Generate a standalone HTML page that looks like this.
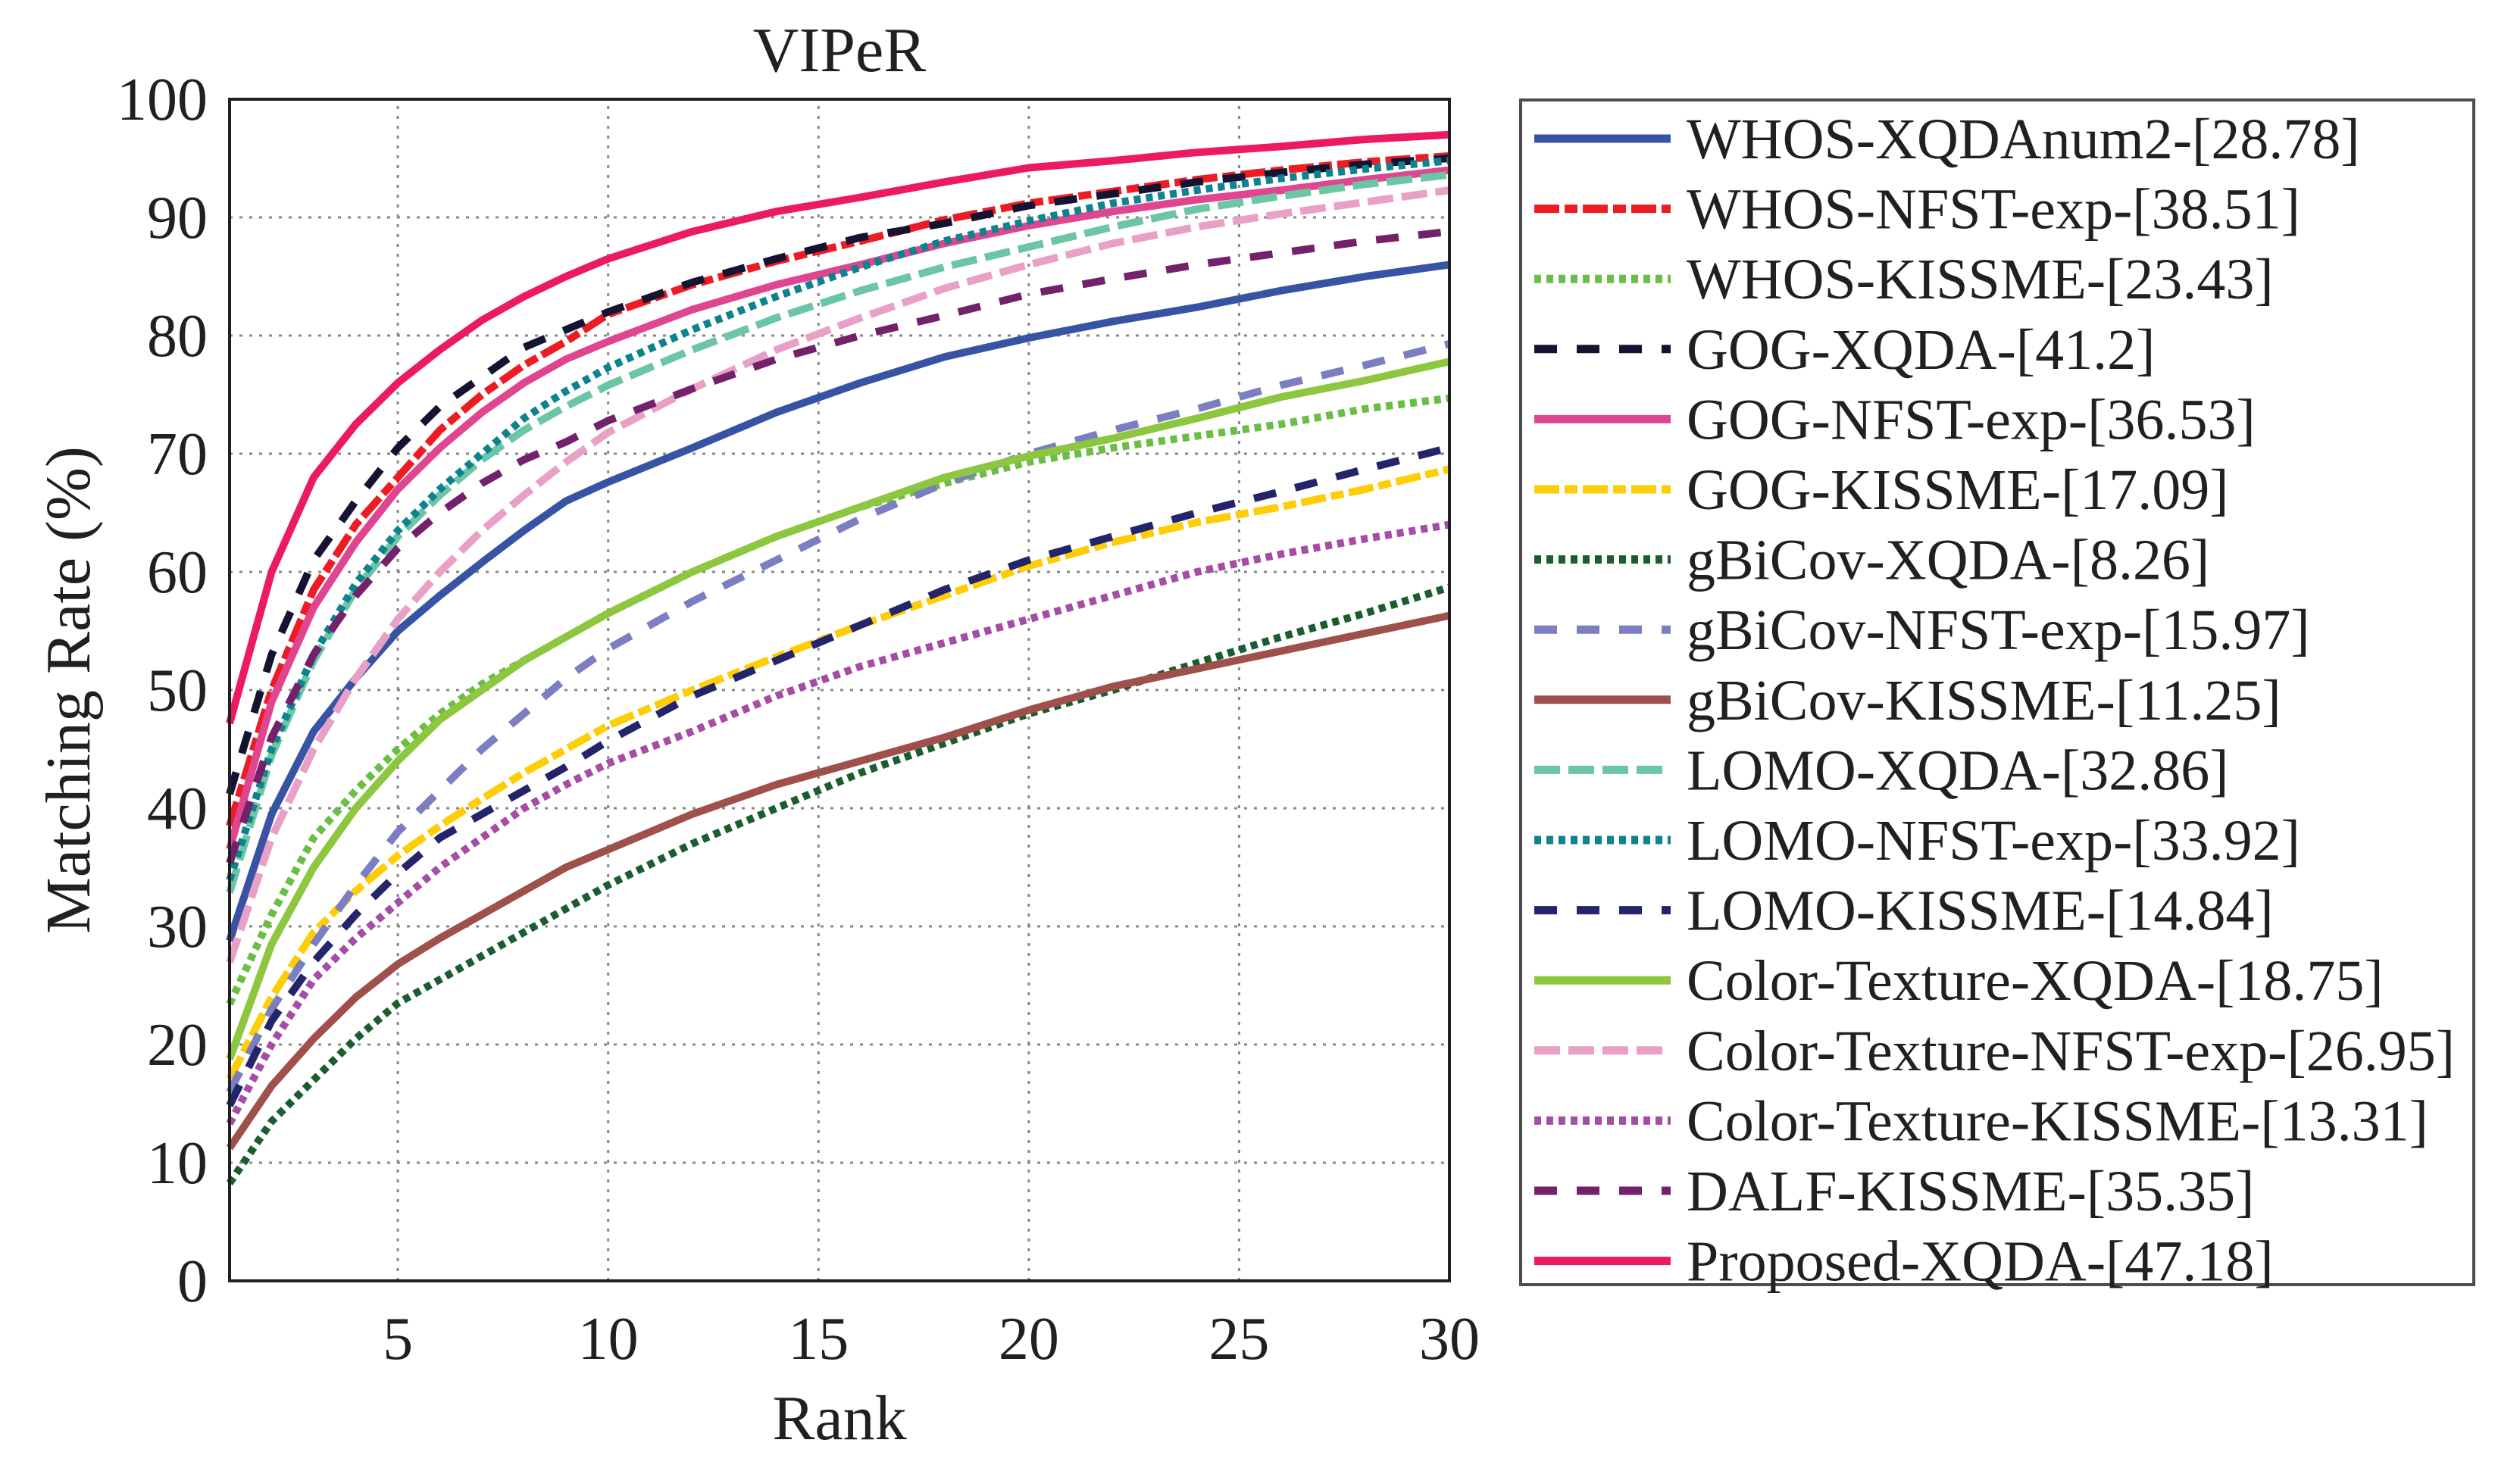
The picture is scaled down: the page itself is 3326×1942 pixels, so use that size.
<!DOCTYPE html>
<html><head><meta charset="utf-8"><style>
html,body{margin:0;padding:0;background:#fff}
svg{display:block}
text{font-family:"Liberation Serif",serif;fill:#231f20}
</style></head><body>
<svg id="chart" width="3326" height="1942" viewBox="0 0 3326 1942" xmlns="http://www.w3.org/2000/svg">
<text x="1108" y="94" font-size="84" text-anchor="middle">VIPeR</text>
<g id="grid"></g>
<g id="plot"></g>
<rect x="303" y="131" width="1610" height="1560" fill="none" stroke="#231f20" stroke-width="4"/>
<g id="ticks"></g>
<text x="1108" y="1900" font-size="84" text-anchor="middle">Rank</text>
<text transform="translate(118,911) rotate(-90)" font-size="84" text-anchor="middle">Matching Rate (%)</text>
<rect x="2007" y="132" width="1258" height="1564" fill="#fff" stroke="#4d4d4d" stroke-width="4"/>
<g id="legend"></g>
</svg>
<script>
const ranks = [1,2,3,4,5,6,7,8,9,10,12,14,16,18,20,22,24,26,28,30];
const seriesNames = ["WHOS-XQDAnum2-[28.78]","WHOS-NFST-exp-[38.51]","WHOS-KISSME-[23.43]","GOG-XQDA-[41.2]","GOG-NFST-exp-[36.53]","GOG-KISSME-[17.09]","gBiCov-XQDA-[8.26]","gBiCov-NFST-exp-[15.97]","gBiCov-KISSME-[11.25]","LOMO-XQDA-[32.86]","LOMO-NFST-exp-[33.92]","LOMO-KISSME-[14.84]","Color-Texture-XQDA-[18.75]","Color-Texture-NFST-exp-[26.95]","Color-Texture-KISSME-[13.31]","DALF-KISSME-[35.35]","Proposed-XQDA-[47.18]"];
const whosXqda = [28.78,39.5,46.5,51,55,58,60.8,63.5,66,67.6,70.5,73.5,76,78.2,79.8,81.2,82.4,83.8,85,86];
const whosNfst = [38.51,50,58.5,64,68,72,75,77.5,79.5,81.8,84.3,86.3,88,89.8,91.2,92.2,93.2,94,94.7,95.2];
const whosKissme = [23.43,31,37.5,41.5,45,48,50.5,52.5,54.5,56.5,60,63,65.5,67.5,69.3,70.5,71.5,72.5,73.8,74.7];
const gogXqda = [41.2,53,61,66,70.5,74,76.5,79,80.5,82,84.5,86.5,88.3,89.5,91,92,93,93.8,94.5,95];
const gogNfst = [36.53,49,57,62.5,67,70.5,73.5,76,78,79.5,82.2,84.3,86,87.8,89.3,90.5,91.5,92.3,93.2,94];
const gogKissme = [17.09,24,29.5,33,36,38.5,40.8,43,45,47,50,52.8,55.5,58,60.5,62.5,64.2,65.5,67,68.7];
const gbXqda = [8.26,13.5,17,20.5,23.5,25.5,27.5,29.5,31.5,33.5,37,40,43,45.5,48,50,52.3,54.5,56.5,58.7];
const gbNfst = [15.97,23,28.5,33.5,38,41.5,45,48,51,53.5,57.5,61,64.5,67.5,70,72,73.8,75.8,77.5,79.3];
const gbKissme = [11.25,16.5,20.5,24,26.8,29,31,33,35,36.5,39.5,42,44,46,48.3,50.3,51.8,53.3,54.8,56.3];
const lomoXqda = [32.86,44.5,52.5,58.5,63,66.5,69.5,72,74,75.8,78.8,81.5,83.8,85.8,87.5,89.2,90.7,91.8,92.8,93.6];
const lomoNfst = [33.92,45,53,59,63.5,67,70,73,75.3,77.3,80.5,83.3,85.8,88,89.7,91.2,92.3,93.3,94.1,94.8];
const lomoKissme = [14.84,22,27,31,34.5,37.5,39.5,41.5,43.5,45.7,49.5,52.5,55.5,58.5,61,63,65,66.8,68.7,70.5];
const ctXqda = [18.75,28.5,35,40,44,47.5,50,52.5,54.5,56.5,60,63,65.5,68,69.8,71.3,73,74.8,76.2,77.8];
const ctNfst = [26.95,37.5,45,51,56,60,63.5,66.5,69.3,71.8,75.5,78.8,81.5,84,86,87.8,89.2,90.3,91.3,92.3];
const ctKissme = [13.31,20,25.5,29,32,35,37.5,40,42,43.8,46.5,49.5,52,54,56,58,60,61.5,62.8,64];
const dalfKissme = [35.35,46,53,58,62,65,67.5,69.5,71,72.8,75.5,78,80,81.7,83.5,84.8,86,87,88,88.8];
const proposedXqda = [47.18,60,68,72.5,76,78.8,81.3,83.3,85,86.5,88.8,90.5,91.7,93,94.2,94.8,95.5,96,96.6,97];
const xTicks = [5,10,15,20,25,30];
const yTicks = [0,10,20,30,40,50,60,70,80,90,100];

const allValues = [whosXqda,whosNfst,whosKissme,gogXqda,gogNfst,gogKissme,gbXqda,gbNfst,gbKissme,lomoXqda,lomoNfst,lomoKissme,ctXqda,ctNfst,ctKissme,dalfKissme,proposedXqda];
const colors = ["#3953a4","#ed1c24","#6abd45","#141432","#e0468f","#ffcd05","#1a5e2f","#7b7fc1","#a0504a","#6cc6a6","#0e8390","#24246b","#8dc63f","#e8a0c6","#a64ca6","#73216a","#ec1a64"];
const DS="", DD="33 7 17 7", DT="9 7", DA="30 26", DM="34 11";
const dashes = [DS,DD,DT,DA,DS,DD,DT,DA,DS,DM,DT,DA,DS,DM,DT,DA,DS];

const X0=303,X1=1913,Y0=1691,Y1=131;
function xs(r){return X0+(r-1)/(30-1)*(X1-X0);}
function ys(v){return Y0-v/100*(Y0-Y1);}
const NS="http://www.w3.org/2000/svg";
function mk(tag,attrs){const e=document.createElementNS(NS,tag);for(const k in attrs)e.setAttribute(k,attrs[k]);return e;}
const grid=document.getElementById('grid'),plot=document.getElementById('plot'),ticks=document.getElementById('ticks'),legend=document.getElementById('legend');

xTicks.forEach(t=>{
  if(t<30){const l=mk('line',{x1:xs(t),x2:xs(t),y1:Y0,y2:Y1,stroke:'#888','stroke-width':3,'stroke-dasharray':'4 9'});
  
  
  grid.appendChild(l);}
  const tx=mk('text',{x:xs(t),y:1794,'font-size':80,'text-anchor':'middle'});tx.textContent=t;
  
  
  ticks.appendChild(tx);
});
yTicks.forEach(t=>{
  if(t>0&&t<100){const l=mk('line',{x1:X0,x2:X1,y1:ys(t),y2:ys(t),stroke:'#888','stroke-width':3,'stroke-dasharray':'4 9'});
  
  
  grid.appendChild(l);}
  const tx=mk('text',{x:274,y:ys(t)+27,'font-size':80,'text-anchor':'end'});tx.textContent=t;
  
  
  ticks.appendChild(tx);
});
allValues.forEach((vals,i)=>{
  const d=vals.map((v,j)=>(j?'L':'M')+xs(ranks[j]).toFixed(1)+' '+ys(v).toFixed(1)).join(' ');
  const p=mk('path',{d:d,fill:'none',stroke:colors[i],'stroke-width':10,'stroke-linejoin':'round'});
  if(dashes[i])p.setAttribute('stroke-dasharray',dashes[i]);
  
  
  plot.appendChild(p);
});
seriesNames.forEach((n,i)=>{
  const cy=183+i*92.6;
  const l=mk('line',{x1:2025,x2:2205,y1:cy,y2:cy,stroke:colors[i],'stroke-width':11});
  if(dashes[i])l.setAttribute('stroke-dasharray',dashes[i]);
  
  
  legend.appendChild(l);
  const t=mk('text',{x:2226,y:cy+26,'font-size':76});t.textContent=n;
  
  
  legend.appendChild(t);
});
</script>
</body></html>
